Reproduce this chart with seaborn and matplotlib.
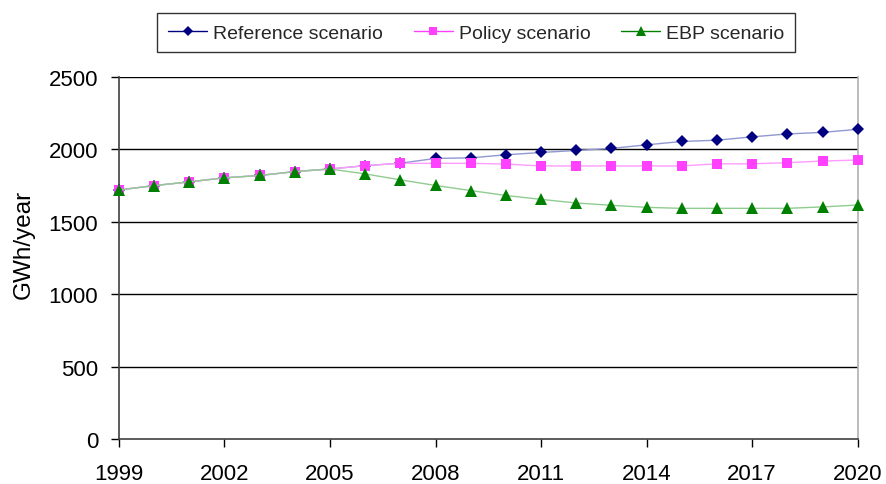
import matplotlib
matplotlib.use("Agg")
import matplotlib.pyplot as plt
from matplotlib.lines import Line2D
import seaborn as sns
import pandas as pd

years = list(range(1999, 2021))
reference = [1720, 1750, 1776, 1804, 1820, 1847, 1865, 1888, 1905, 1938, 1942,
             1963, 1979, 1993, 2007, 2032, 2055, 2064, 2087, 2107, 2118, 2139]
policy = [1720, 1750, 1776, 1804, 1820, 1847, 1865, 1888, 1904, 1904, 1904,
          1899, 1886, 1886, 1886, 1886, 1886, 1901, 1901, 1908, 1920, 1927]
ebp = [1720, 1750, 1776, 1804, 1820, 1847, 1865, 1831, 1790, 1751, 1716,
       1682, 1655, 1630, 1614, 1600, 1593, 1593, 1593, 1593, 1603, 1616]
series_names = ["Reference scenario", "Policy scenario", "EBP scenario"]
x_ticks = list(range(1999, 2021, 3))
y_ticks = [0, 500, 1000, 1500, 2000, 2500]

df = pd.DataFrame({
    "year": years * 3,
    "value": reference + policy + ebp,
    "scenario": [series_names[0]] * len(years)
    + [series_names[1]] * len(years)
    + [series_names[2]] * len(years),
})

sns.set_theme(style="white")
plt.rcParams["font.family"] = ["Liberation Sans", "DejaVu Sans"]

fig = plt.figure(figsize=(8.87, 4.85), dpi=100)
ax = fig.add_axes([0.134, 0.093, 0.833, 0.746])

palette = {series_names[0]: "#000080", series_names[1]: "#FF40FF", series_names[2]: "#008000"}
line_tint = {series_names[0]: "#9098d0", series_names[1]: "#ff9cff", series_names[2]: "#90cc90"}
markers = {series_names[0]: "D", series_names[1]: "s", series_names[2]: "^"}
sizes = {series_names[0]: 6, series_names[1]: 7.8, series_names[2]: 8.5}

handles = []
for name in series_names:
    sub = df[df["scenario"] == name]
    n_before = len(ax.lines)
    sns.lineplot(data=sub, x="year", y="value", ax=ax, color=line_tint[name],
                 linewidth=1.0, marker=markers[name], markersize=sizes[name],
                 markeredgewidth=0, legend=False, zorder=3)
    for ln in ax.lines[n_before:]:
        ln.set_markerfacecolor(palette[name])
        ln.set_clip_on(False)
    handles.append(Line2D([], [], color=palette[name], linewidth=1.0,
                          marker=markers[name], markersize=sizes[name] * 0.8,
                          markeredgewidth=0))

ax.set_xlim(1999, 2020)
ax.set_ylim(0, 2500)
ax.set_xticks(x_ticks)
ax.set_yticks(y_ticks)
ax.tick_params(axis="both", labelsize=16, colors="black", length=6, width=1,
               direction="out", bottom=True, left=True)
ax.tick_params(axis="y", pad=9)
ax.tick_params(axis="x", pad=11)
ax.grid(False)
for yv in y_ticks[1:]:
    ax.axhline(yv, color="black", linewidth=1, zorder=1)

ax.set_xlabel("")
ax.set_ylabel("GWh/year", fontsize=17.5, color="black")
ax.yaxis.set_label_coords(-0.114, 0.541)

for side in ["left", "bottom"]:
    ax.spines[side].set_color("#404040")
    ax.spines[side].set_linewidth(1.2)
ax.spines["right"].set_color("#b0b0b0")
ax.spines["right"].set_linewidth(1.2)
ax.spines["top"].set_visible(False)

leg = fig.legend(handles, series_names, loc="center", bbox_to_anchor=(0.537, 0.93),
                 ncol=3, frameon=True, fancybox=False, fontsize=14, handlelength=2.0,
                 columnspacing=1.6, borderpad=0.55, handletextpad=0.3)
leg.get_frame().set_edgecolor("black")
leg.get_frame().set_linewidth(1.0)

fig.savefig("out.png", dpi=100)
